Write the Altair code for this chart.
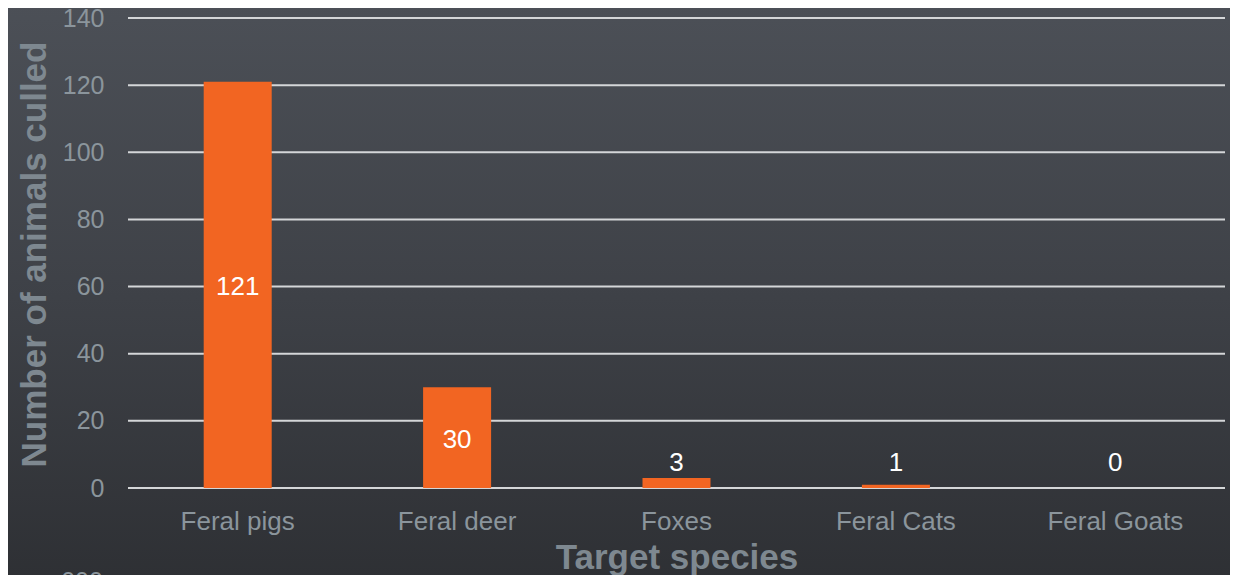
import altair as alt
import pandas as pd

species = ["Feral pigs", "Feral deer", "Foxes", "Feral Cats", "Feral Goats"]
culled = [121, 30, 3, 1, 0]
y_ticks = [0, 20, 40, 60, 80, 100, 120, 140]
stray_text = ["000"]

FONT = "Liberation Sans, Arial, Helvetica, sans-serif"
W, H = 1097, 470

df = pd.DataFrame({"species": species, "culled": culled})

bg = alt.Chart(pd.DataFrame({"k": [0]})).mark_rect(
    color=alt.LinearGradient(
        gradient="linear",
        x1=0, x2=0, y1=0, y2=1,
        stops=[
            alt.GradientStop(color="#4c5057", offset=0),
            alt.GradientStop(color="#3e4147", offset=0.5),
            alt.GradientStop(color="#2d2f33", offset=1),
        ],
    )
).encode(
    x=alt.value(-130), x2=alt.value(W + 20),
    y=alt.value(-20), y2=alt.value(H + 110),
)

xenc = alt.X(
    "species:N",
    sort=species,
    scale=alt.Scale(paddingInner=0.69, paddingOuter=0.345),
    axis=alt.Axis(
        title="Target species",
        labelAngle=0,
        labelFont=FONT, labelFontSize=26, labelColor="#8b959c",
        labelPadding=20,
        ticks=False, domain=False, grid=False,
        titleFont=FONT, titleFontSize=35, titleFontWeight="bold",
        titleColor="#7e8890",
        titleX=W / 2, titleY=80, titleBaseline="alphabetic", titleAlign="center",
        zindex=1,
    ),
)

yscale = alt.Scale(domain=[0, 140], nice=False)
yaxis = alt.Axis(
    title="Number of animals culled",
    values=y_ticks,
    labelFont=FONT, labelFontSize=25, labelColor="#8b959c",
    labelPadding=24,
    ticks=False, domain=False, grid=False,
    titleFont=FONT, titleFontSize=35, titleFontWeight="bold",
    titleColor="#7e8890",
    titleAngle=270, titleX=-83, titleY=236,
    titleBaseline="alphabetic", titleAlign="center",
    zindex=1,
)

grid = alt.Chart(pd.DataFrame({"v": y_ticks})).mark_rule(
    color="#d4d6d8", strokeWidth=2
).encode(y=alt.Y("v:Q", scale=yscale, axis=yaxis))

bars = alt.Chart(df).mark_bar(color="#F26522").encode(
    x=xenc, y=alt.Y("culled:Q", scale=yscale, axis=yaxis)
)

labels = alt.Chart(df).transform_calculate(
    ly="datum.culled > 10 ? datum.culled / 2 : 8"
).mark_text(
    font=FONT, fontSize=26, color="#ffffff", baseline="middle", align="center",
    dy=2,
).encode(
    x=alt.X("species:N", sort=species),
    y=alt.Y("ly:Q"),
    text=alt.Text("culled:Q"),
)

stray = alt.Chart(pd.DataFrame({"t": stray_text})).mark_text(
    font=FONT, fontSize=25, color="#8b959c", baseline="top", align="center"
).encode(
    x=alt.value(-46), y=alt.value(552), text="t:N"
)

chart = alt.layer(bg, grid, bars, labels, stray).properties(
    width=W, height=H,
    autosize=alt.AutoSizeParams(type="none"),
    padding={"left": 120, "top": 10, "right": 5, "bottom": 87},
    background="#3a3d42",
).configure_view(stroke=None)

chart.save("out.html", embed_options={"renderer": "svg", "actions": False})
